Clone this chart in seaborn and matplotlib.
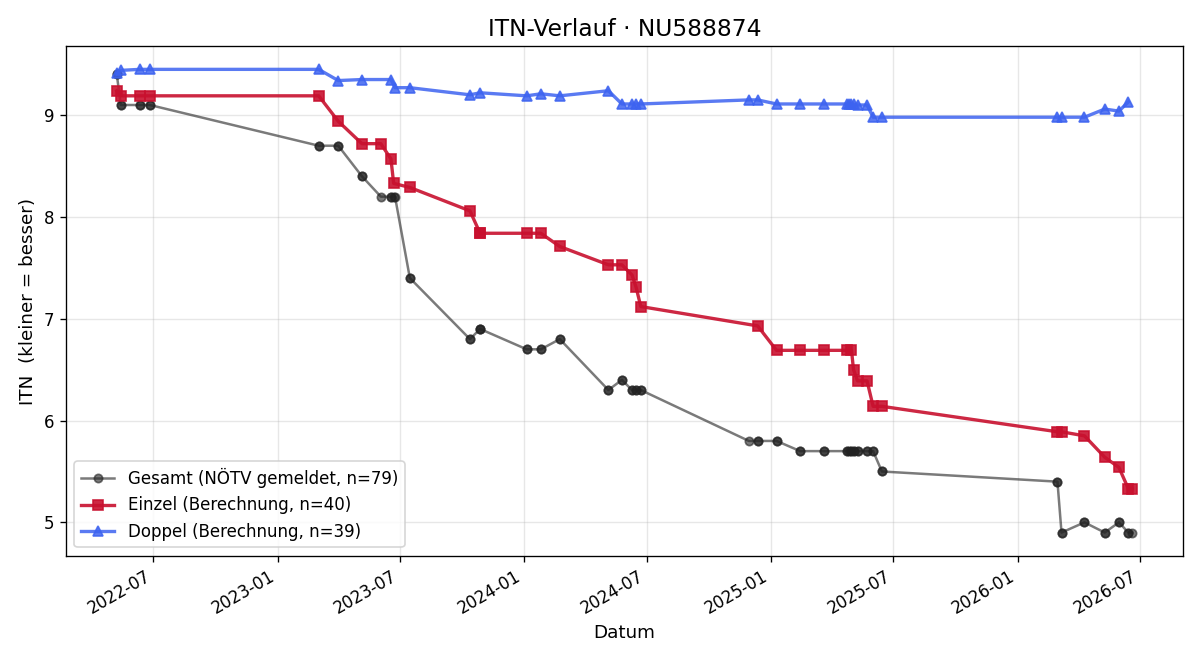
import matplotlib
matplotlib.use("Agg")
import matplotlib.pyplot as plt
import matplotlib.dates as mdates
import seaborn as sns
import pandas as pd

# ---- data ----
einzel_dates = [
    "2022-05-08", "2022-05-14", "2022-06-11", "2022-06-26", "2023-03-03",
    "2023-04-01", "2023-05-06", "2023-06-03", "2023-06-18", "2023-06-22",
    "2023-07-16", "2023-10-13", "2023-10-28", "2023-10-28", "2024-01-05",
    "2024-01-26", "2024-02-23", "2024-05-05", "2024-05-25", "2024-06-09",
    "2024-06-15", "2024-06-22", "2024-12-12", "2025-01-09", "2025-02-13",
    "2025-03-21", "2025-04-24", "2025-04-30", "2025-05-03", "2025-05-09",
    "2025-05-23", "2025-06-01", "2025-06-14", "2026-03-01", "2026-03-07",
    "2026-04-10", "2026-05-10", "2026-05-31", "2026-06-14", "2026-06-20",
]
einzel_itn = [
    9.24, 9.19, 9.19, 9.19, 9.19,
    8.94, 8.72, 8.72, 8.57, 8.33,
    8.29, 8.06, 7.84, 7.84, 7.84,
    7.84, 7.71, 7.53, 7.53, 7.43,
    7.31, 7.12, 6.93, 6.69, 6.69,
    6.69, 6.69, 6.69, 6.50, 6.39,
    6.39, 6.14, 6.14, 5.89, 5.89,
    5.85, 5.64, 5.54, 5.33, 5.33,
]

doppel_dates = [
    "2022-05-08", "2022-05-14", "2022-06-11", "2022-06-26", "2023-03-03",
    "2023-04-01", "2023-05-06", "2023-06-18", "2023-06-24", "2023-07-16",
    "2023-10-13", "2023-10-28", "2024-01-05", "2024-01-26", "2024-02-23",
    "2024-05-05", "2024-05-25", "2024-06-09", "2024-06-15", "2024-06-22",
    "2024-11-29", "2024-12-12", "2025-01-09", "2025-02-13", "2025-03-21",
    "2025-04-24", "2025-04-27", "2025-04-30", "2025-05-03", "2025-05-09",
    "2025-05-23", "2025-06-01", "2025-06-14", "2026-03-01", "2026-03-07",
    "2026-04-10", "2026-05-10", "2026-05-31", "2026-06-14",
]
doppel_itn = [
    9.41, 9.44, 9.45, 9.45, 9.45,
    9.34, 9.35, 9.35, 9.27, 9.27,
    9.20, 9.22, 9.19, 9.21, 9.19,
    9.24, 9.11, 9.11, 9.11, 9.11,
    9.15, 9.15, 9.11, 9.11, 9.11,
    9.11, 9.11, 9.11, 9.11, 9.10,
    9.10, 8.98, 8.98, 8.98, 8.98,
    8.98, 9.06, 9.04, 9.13,
]

# Gesamt (NÖTV gemeldet): value per reporting date
gesamt_dates = [
    "2022-05-08", "2022-05-14", "2022-06-11", "2022-06-26", "2023-03-03",
    "2023-04-01", "2023-05-06", "2023-06-03", "2023-06-18", "2023-06-22",
    "2023-06-24", "2023-07-16", "2023-10-13", "2023-10-28", "2024-01-05",
    "2024-01-26", "2024-02-23", "2024-05-05", "2024-05-25", "2024-06-09",
    "2024-06-15", "2024-06-22", "2024-11-29", "2024-12-12", "2025-01-09",
    "2025-02-13", "2025-03-21", "2025-04-24", "2025-04-27", "2025-04-30",
    "2025-05-03", "2025-05-09", "2025-05-23", "2025-06-01", "2025-06-14",
    "2026-03-01", "2026-03-07", "2026-04-10", "2026-05-10", "2026-05-31",
    "2026-06-14", "2026-06-20",
]
gesamt_itn = [
    9.4, 9.1, 9.1, 9.1, 8.7,
    8.7, 8.4, 8.2, 8.2, 8.2,
    8.2, 7.4, 6.8, 6.9, 6.7,
    6.7, 6.8, 6.3, 6.4, 6.3,
    6.3, 6.3, 5.8, 5.8, 5.8,
    5.7, 5.7, 5.7, 5.7, 5.7,
    5.7, 5.7, 5.7, 5.7, 5.5,
    5.4, 4.9, 5.0, 4.9, 5.0,
    4.9, 4.9,
]

labels = [
    "Gesamt (NÖTV gemeldet, n=79)",
    "Einzel (Berechnung, n=40)",
    "Doppel (Berechnung, n=39)",
]

# ---- tables ----
df_e = pd.DataFrame({"Datum": pd.to_datetime(einzel_dates), "ITN": einzel_itn})
df_d = pd.DataFrame({"Datum": pd.to_datetime(doppel_dates), "ITN": doppel_itn})
gmap = dict(zip(gesamt_dates, gesamt_itn))
all_dates = sorted(einzel_dates + doppel_dates)
df_g = pd.DataFrame({"Datum": pd.to_datetime(all_dates),
                     "ITN": [gmap[d] for d in all_dates]})

# ---- plot ----
plt.rcParams["font.family"] = ["DejaVu Sans"]
fig, ax = plt.subplots(figsize=(10, 5.5), dpi=120)

c_g, c_e, c_d = "#222222", "#c8102e", "#3d63f0"
sns.lineplot(data=df_g, x="Datum", y="ITN", ax=ax, estimator=None, sort=True,
             color=c_g, alpha=0.6, linewidth=1.5, marker="o",
             markersize=5, markeredgewidth=1, markeredgecolor=c_g,
             markerfacecolor=c_g, label=labels[0])
sns.lineplot(data=df_e, x="Datum", y="ITN", ax=ax, estimator=None, sort=True,
             color=c_e, alpha=0.9, linewidth=2, marker="s",
             markersize=6, markeredgewidth=1, markeredgecolor=c_e,
             markerfacecolor=c_e, label=labels[1])
sns.lineplot(data=df_d, x="Datum", y="ITN", ax=ax, estimator=None, sort=True,
             color=c_d, alpha=0.85, linewidth=2, marker="^",
             markersize=6, markeredgewidth=1, markeredgecolor=c_d,
             markerfacecolor=c_d, label=labels[2])

ax.set_title("ITN-Verlauf · NU588874", fontsize=14)
ax.set_xlabel("Datum", fontsize=11)
ax.set_ylabel("ITN  (kleiner = besser)", fontsize=11)
ax.grid(True, alpha=0.3)

ax.xaxis.set_major_locator(mdates.MonthLocator(bymonth=[1, 7]))
ax.xaxis.set_major_formatter(mdates.DateFormatter("%Y-%m"))
ax.set_yticks([5, 6, 7, 8, 9])
fig.autofmt_xdate()

ax.legend(loc="lower left")

fig.subplots_adjust(left=0.055, right=0.986, top=0.930, bottom=0.158)
fig.savefig("out.png", dpi=120)
